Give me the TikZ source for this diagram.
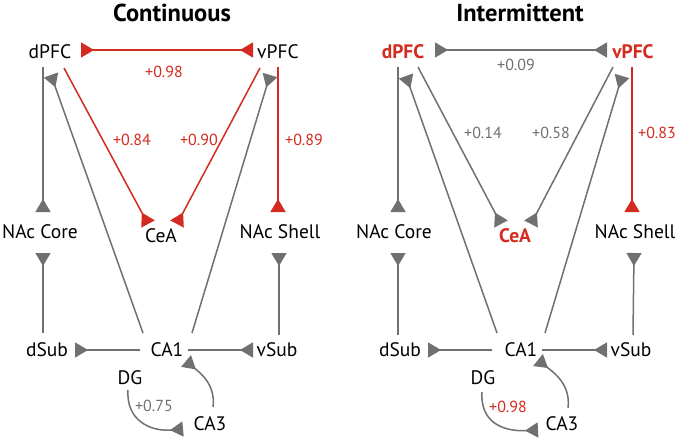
\documentclass[tikz,border=0pt]{standalone}
\usepackage{fontspec}
\setmainfont{PT Sans}
\usetikzlibrary{arrows.meta,calc}
\definecolor{mred}{RGB}{211,43,31}
\definecolor{mgray}{RGB}{112,112,112}
\begin{document}
\begin{tikzpicture}[x=1pt,y=-1pt,
  lbl/.style={inner sep=0pt,font=\fontsize{19.5}{19.5}\selectfont},
  blbl/.style={inner sep=0pt,font=\fontsize{19.5}{19.5}\selectfont\bfseries,text=mred},
  ttl/.style={inner sep=0pt,font=\fontsize{24.5}{24.5}\selectfont\bfseries},
  num/.style={inner sep=0pt,font=\fontsize{16}{16}\selectfont,text=mgray},
  rnum/.style={num,text=mred},
  tipr/.style={-{Triangle[reversed,length=13pt,width=15pt]}},
  both/.style={{Triangle[reversed,length=13pt,width=15pt]}-{Triangle[reversed,length=13pt,width=15pt]}},
  gl/.style={draw=mgray,line width=1.5pt},
  rl/.style={draw=mred,line width=1.5pt}]
\useasboundingbox (0,0) rectangle (680,441);
% ---------- Continuous ----------
\node[ttl] (t1) at (172,13) {Continuous};
\node[lbl] (dP1) at (50,52) {dPFC};
\node[lbl] (vP1) at (278,52) {vPFC};
\node[lbl] (Ce1) at (161,236) {CeA};
\node[lbl] (NC1) at (40,232) {NAc Core};
\node[lbl] (NS1) at (280,232) {NAc Shell};
\node[lbl] (dS1) at (47,350) {dSub};
\node[lbl] (CA11) at (167,350) {CA1};
\node[lbl] (vS1) at (277,350) {vSub};
\node[lbl] (DG1) at (130,378) {DG};
\node[lbl] (CA31) at (210,424) {CA3};
\draw[rl,both] ($(dP1)+(31,-2)$) -- ($(vP1)+(-25,-2)$);
\draw[gl,tipr] ($(dP1)+(-7,15)$) -- ($(NC1)+(3,-20)$);
\draw[rl,tipr] ($(dP1)+(14,16)$) -- ($(Ce1)+(-13,-12)$);
\draw[rl,tipr] ($(vP1)+(-18,16)$) -- ($(Ce1)+(16,-12)$);
\draw[rl,tipr] ($(vP1)+(0,15)$) -- ($(NS1)+(-2,-20)$);
\draw[gl,tipr] ($(dS1)+(-4,-17)$) -- ($(NC1)+(3,21)$);
\draw[gl,tipr] ($(vS1)+(2,-15)$) -- ($(NS1)+(-1,21)$);
\draw[gl,tipr] ($(CA11)+(-24,-17)$) -- ($(dP1)+(1,23)$);
\draw[gl,tipr] ($(CA11)+(25,-17)$) -- ($(vP1)+(-8,23)$);
\draw[gl,tipr] ($(CA11)+(-27,0)$) -- ($(dS1)+(28,0)$);
\draw[gl,tipr] ($(CA11)+(21,0)$) -- ($(vS1)+(-24,0)$);
\draw[gl,tipr] ($(CA31)+(3,-17)$) .. controls ($(CA31)+(6,-40)$) and ($(CA11)+(32,22)$) .. ($(CA11)+(19,11)$);
\draw[gl,tipr] ($(DG1)+(-2,12)$) .. controls ($(DG1)+(-4,42)$) and ($(CA31)+(-60,8)$) .. ($(CA31)+(-27,5)$);
\node[rnum] (n1a) at (164,72) {+0.98};
\node[rnum] (n1b) at (132,140) {+0.84};
\node[rnum] (n1c) at (199,140) {+0.90};
\node[rnum] (n1d) at (304,140) {+0.89};
\node[num] (n1e) at (154,406) {+0.75};
% ---------- Intermittent ----------
\node[ttl] (t2) at (520,13) {Intermittent};
\node[blbl] (dP2) at (403,52) {dPFC};
\node[blbl] (vP2) at (633,52) {vPFC};
\node[blbl] (Ce2) at (515,236) {CeA};
\node[lbl] (NC2) at (394,232) {NAc Core};
\node[lbl] (NS2) at (635,232) {NAc Shell};
\node[lbl] (dS2) at (400,350) {dSub};
\node[lbl] (CA12) at (521,350) {CA1};
\node[lbl] (vS2) at (631,350) {vSub};
\node[lbl] (DG2) at (483,378) {DG};
\node[lbl] (CA32) at (562,424) {CA3};
\draw[gl,both] ($(dP2)+(32,-2)$) -- ($(vP2)+(-26,-2)$);
\draw[gl,tipr] ($(dP2)+(-5,15)$) -- ($(NC2)+(4,-20)$);
\draw[gl,tipr] ($(dP2)+(15,15)$) -- ($(Ce2)+(-14,-12)$);
\draw[gl,tipr] ($(vP2)+(-20,15)$) -- ($(Ce2)+(16,-12)$);
\draw[rl,tipr] ($(vP2)+(-1,15)$) -- ($(NS2)+(-3,-20)$);
\draw[gl,tipr] ($(dS2)+(-2,-15)$) -- ($(NC2)+(4,21)$);
\draw[gl,tipr] ($(vS2)+(2,-15)$) -- ($(NS2)+(-1,21)$);
\draw[gl,tipr] ($(CA12)+(-24,-17)$) -- ($(dP2)+(3,24)$);
\draw[gl,tipr] ($(CA12)+(24,-17)$) -- ($(vP2)+(-11,24)$);
\draw[gl,tipr] ($(CA12)+(-29,0)$) -- ($(dS2)+(28,0)$);
\draw[gl,tipr] ($(CA12)+(21,0)$) -- ($(vS2)+(-24,0)$);
\draw[gl,tipr] ($(CA32)+(6,-16)$) .. controls ($(CA32)+(9,-40)$) and ($(CA12)+(32,22)$) .. ($(CA12)+(17,10)$);
\draw[gl,tipr] ($(DG2)+(-1,14)$) .. controls ($(DG2)+(-3,42)$) and ($(CA32)+(-62,8)$) .. ($(CA32)+(-24,6)$);
\node[num] (n2a) at (516,65) {+0.09};
\node[num] (n2b) at (483,133) {+0.14};
\node[num] (n2c) at (551,133) {+0.58};
\node[rnum] (n2d) at (657,133) {+0.83};
\node[rnum] (n2e) at (508,407) {+0.98};
\end{tikzpicture}
\end{document}
